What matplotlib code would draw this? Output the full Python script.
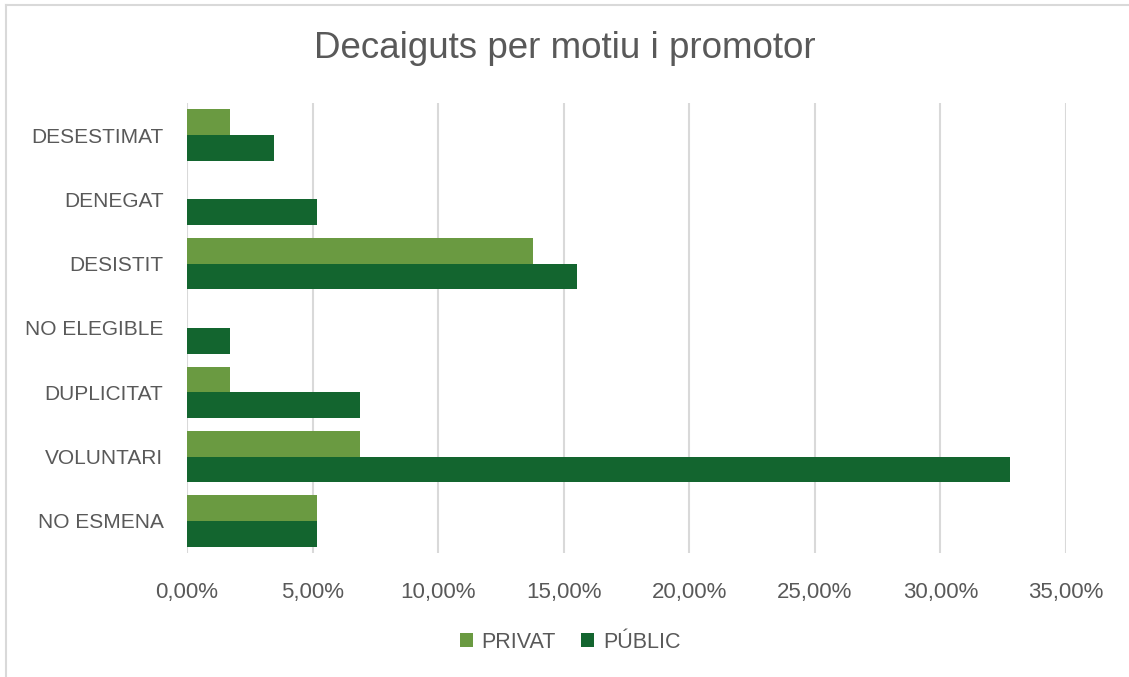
import numpy as np
import matplotlib
matplotlib.use("Agg")
import matplotlib.pyplot as plt
from matplotlib.lines import Line2D
from matplotlib.ticker import FuncFormatter

# categories top -> bottom, as shown
categories = ["DESESTIMAT", "DENEGAT", "DESISTIT", "NO ELEGIBLE",
              "DUPLICITAT", "VOLUNTARI", "NO ESMENA"]
privat = [1.72, 0.0, 13.79, 0.0, 1.72, 6.90, 5.17]
public = [3.45, 5.17, 15.52, 1.72, 6.90, 32.76, 5.17]
xticks = [0, 5, 10, 15, 20, 25, 30, 35]

C_PRIV = "#6A9A41"
C_PUB = "#13652F"
TXT = "#595959"

plt.rcParams["font.family"] = ["Liberation Sans", "DejaVu Sans"]

fig = plt.figure(figsize=(11.29, 6.77), dpi=100)
ax = fig.add_axes([187 / 1129, 1 - 553 / 677, (1066 - 187) / 1129, (553 - 103) / 677])

y = np.arange(len(categories))
h = 0.4
ax.barh(y - h / 2, privat, height=h, color=C_PRIV, linewidth=0,
        label="PRIVAT", zorder=3)
ax.barh(y + h / 2, public, height=h, color=C_PUB, linewidth=0,
        label="PÚBLIC", zorder=3)

ax.set_ylim(len(categories) - 0.5, -0.5)
ax.set_xlim(0, 35)
ax.set_yticks(y)
ax.set_yticklabels(categories)
ax.set_xticks(xticks)
ax.xaxis.set_major_formatter(FuncFormatter(lambda v, p: f"{v:.2f}%".replace(".", ",")))
ax.tick_params(axis="both", length=0, labelcolor=TXT)
ax.tick_params(axis="x", pad=21, labelsize=16)
ax.tick_params(axis="y", pad=17, labelsize=15)
ax.grid(axis="x", color="#D9D9D9", linewidth=1.5, zorder=0)
for s in ax.spines.values():
    s.set_visible(False)

fig.suptitle("Decaiguts per motiu i promotor", x=0.5, y=1 - 48 / 677, va="center",
             fontsize=26.5, color=TXT)

leg = fig.legend(loc="center", bbox_to_anchor=(570 / 1129, 1 - 642 / 677), ncol=2,
                 frameon=False, fontsize=15.5, handlelength=0.6, handleheight=0.6,
                 handletextpad=0.4, columnspacing=1.2)
for t in leg.get_texts():
    t.set_color(TXT)

# outer chart frame (only top and left edges visible in the crop)
fig.add_artist(Line2D([5.5 / 1129, 5.5 / 1129], [0, 1 - 5 / 677], transform=fig.transFigure,
                      color="#D9D9D9", linewidth=1.5))
fig.add_artist(Line2D([5.5 / 1129, 1], [1 - 5 / 677, 1 - 5 / 677], transform=fig.transFigure,
                      color="#D9D9D9", linewidth=1.5))

fig.savefig("out.png", dpi=100)
